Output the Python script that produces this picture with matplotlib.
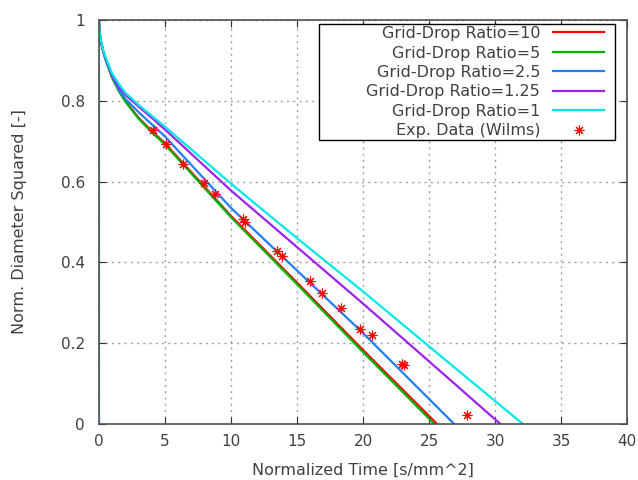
import matplotlib
matplotlib.use("Agg")
import matplotlib.pyplot as plt
from matplotlib.patches import Rectangle

# Grid-drop ratio runs: normalized time vs normalized diameter squared
t_r10 = [0, 0, 0.05, 0.15, 0.3, 0.5, 0.75, 1, 1.5, 2, 3, 4, 5, 10, 15, 20, 25.6]
d_r10 = [0, 1, 0.97, 0.947, 0.925, 0.903, 0.88, 0.858, 0.826, 0.80, 0.758, 0.725,
         0.695, 0.515, 0.35, 0.183, 0]

t_r5 = [0, 0, 0.05, 0.15, 0.3, 0.5, 0.75, 1, 1.5, 2, 3, 4, 5, 10, 15, 20, 25.4]
d_r5 = [0, 1, 0.97, 0.947, 0.925, 0.903, 0.88, 0.857, 0.825, 0.798, 0.756, 0.722,
        0.692, 0.512, 0.346, 0.178, 0]

t_r25 = [0, 0, 0.05, 0.15, 0.3, 0.5, 0.75, 1, 1.5, 2, 3, 4, 5, 10, 15, 20, 26.9]
d_r25 = [0, 1, 0.97, 0.948, 0.926, 0.904, 0.882, 0.861, 0.828, 0.805, 0.772, 0.742,
         0.712, 0.535, 0.38, 0.225, 0]

t_r125 = [0, 0, 0.05, 0.15, 0.3, 0.5, 0.75, 1, 1.5, 2, 3, 4, 5, 10, 15, 20, 25, 30.4]
d_r125 = [0, 1, 0.971, 0.949, 0.927, 0.906, 0.885, 0.864, 0.835, 0.815, 0.786, 0.758,
          0.729, 0.578, 0.438, 0.298, 0.155, 0]

t_r1 = [0, 0, 0.05, 0.15, 0.3, 0.5, 0.75, 1, 1.5, 2, 3, 4, 5, 10, 15, 20, 25, 32.1]
d_r1 = [0, 1, 0.972, 0.95, 0.929, 0.908, 0.888, 0.868, 0.842, 0.82, 0.79, 0.763,
        0.736, 0.595, 0.46, 0.328, 0.192, 0]

# Experimental data (Wilms)
t_exp = [4.07, 5.08, 6.39, 7.98, 8.79, 10.9, 11.1, 13.5, 13.9, 15.98, 16.9,
         18.33, 19.8, 20.7, 22.93, 23.1, 27.9]
d_exp = [0.727, 0.694, 0.644, 0.597, 0.569, 0.507, 0.500, 0.428, 0.416, 0.355,
         0.324, 0.287, 0.236, 0.221, 0.149, 0.146, 0.023]

xticks = [0, 5, 10, 15, 20, 25, 30, 35, 40]
yticks = [0, 0.2, 0.4, 0.6, 0.8, 1]
ytick_labels = ["0", "0.2", "0.4", "0.6", "0.8", "1"]

txt = "#404040"

fig = plt.figure(figsize=(6.38, 4.8), dpi=100)
ax = fig.add_axes([0.155, 0.1167, 0.828, 0.8416])

lw = 1.6
ax.plot(t_r10, d_r10, color="#ff0000", lw=lw, label="Grid-Drop Ratio=10")
ax.plot(t_r5, d_r5, color="#00b400", lw=lw, label="Grid-Drop Ratio=5")
ax.plot(t_r25, d_r25, color="#1e80ff", lw=lw, label="Grid-Drop Ratio=2.5")
ax.plot(t_r125, d_r125, color="#a020f0", lw=lw, label="Grid-Drop Ratio=1.25")
ax.plot(t_r1, d_r1, color="#00e8e8", lw=lw, label="Grid-Drop Ratio=1")
ax.plot(t_exp, d_exp, linestyle="none", marker=(8, 2, 0), markersize=7,
        markeredgewidth=0.8, color="#ff0000", label="Exp. Data (Wilms)")

ax.set_xlim(0, 40)
ax.set_ylim(0, 1)
ax.set_xticks(xticks)
ax.set_yticks(yticks)
ax.set_yticklabels(ytick_labels)
ax.grid(True, linestyle=(0, (1.5, 3)), color="#a0a0a0", lw=1.0)
ax.set_axisbelow(True)

ax.tick_params(direction="in", length=5, top=True, right=True,
               labelsize=11, labelcolor=txt, color="#303030")
ax.tick_params(axis="x", pad=7)
ax.tick_params(axis="y", pad=10)
for s in ax.spines.values():
    s.set_color("#505050")
    s.set_linewidth(1.2)

ax.set_xlabel("Normalized Time [s/mm^2]", fontsize=11.5, color=txt, va="center")
ax.set_ylabel("Norm. Diameter Squared [-]", fontsize=11.5, color=txt, va="center")
ax.xaxis.set_label_coords(0.5, -0.114)
ax.yaxis.set_label_coords(-0.150, 0.5)

# legend box drawn like gnuplot's key
ax.add_patch(Rectangle((0.4167, 0.703), 0.5606, 0.287, transform=ax.transAxes,
                       facecolor="white", edgecolor="black", lw=1.0, zorder=4))
leg = ax.legend(loc="upper right", bbox_to_anchor=(0.9564, 0.985), markerfirst=False,
                fontsize=11.5, handlelength=3.2, handletextpad=0.8, numpoints=1,
                labelspacing=0.28, borderpad=0, frameon=False, borderaxespad=0)
leg.set_zorder(5)
for t in leg.get_texts():
    t.set_color(txt)

fig.savefig("out.png", dpi=100)
